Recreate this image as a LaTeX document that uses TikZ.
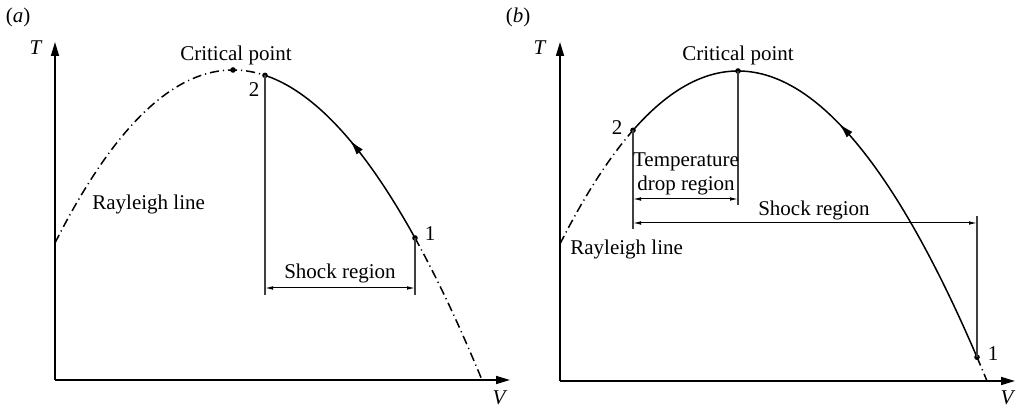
\documentclass[tikz,border=0pt]{standalone}
\usepackage{fontspec}
\setmainfont{Liberation Serif}
\usetikzlibrary{arrows.meta,decorations.markings}

\tikzset{
  rayleigh/.style={line width=0.75pt, dash pattern=on 4.5pt off 2pt on 0.6pt off 2pt},
  shock/.style={line width=0.75pt},
  axis/.style={line width=0.8pt, -{Triangle[length=7pt,width=4pt]}},
  guide/.style={line width=0.6pt, black!75},
  dim/.style={line width=0.5pt, {Latex[length=4pt,width=1.8pt]}-{Latex[length=4pt,width=1.8pt]}},
  lbl/.style={font=\fontsize{10.5}{12}\selectfont, inner sep=0pt, align=center},
  flow/.style={postaction={decorate}, decoration={markings,
      mark=at position #1 with {\arrow{Latex[length=7.5pt,width=4pt]}}}},
}

\begin{document}
\begin{tikzpicture}[x=0.5pt,y=0.5pt,
  declare function={rl(\u)=310-52.68*((\u-178)/100)*((\u-178)/100)
                    +1.077*((\u-178)/100)*((\u-178)/100)*((\u-178)/100);}]

\useasboundingbox (0,0) rectangle (1016,410);

% (a)
\begin{scope}[shift={(55,30)}]
  \draw[axis] (0,0) -- (0,338);
  \draw[axis] (0,0) -- (455,0);

  \coordinate (cpa) at (178,{rl(178)});
  \coordinate (p2a) at (210,{rl(210)});
  \coordinate (p1a) at (360,{rl(360)});

  \draw[rayleigh,domain=0:210,samples=60,variable=\u] plot (\u,{rl(\u)});
  \draw[rayleigh,domain=360:427,samples=20,variable=\u] plot (\u,{rl(\u)});
  \draw[shock,flow=0.52,domain=360:210,samples=60,variable=\u] plot (\u,{rl(\u)});

  \fill (cpa) circle (1.4pt);
  \fill (p2a) circle (1.4pt);
  \fill (p1a) circle (1.4pt);

  \coordinate (g2a) at (210,85);
  \coordinate (g1a) at (360,85);
  \draw[guide] (p2a) -- (g2a);
  \draw[guide] (p1a) -- (g1a);
  \coordinate (d2a) at (210,92);
  \coordinate (d1a) at (360,92);
  \draw[dim] (d2a) -- (d1a);

  \node[lbl] (cpta) at (181,325) {Critical point};
  \node[lbl] (twoa) at (199,290) {2};
  \node[lbl] (onea) at (375,146) {1};
  \node[lbl] (shka) at (285,107) {Shock region};
  \node[lbl,anchor=west] (rla) at (37,176) {Rayleigh line};
  \node[lbl] (Ta) at (-19,332) {\textit{T}};
  \node[lbl] (Va) at (445,-18) {\textit{V}};
  \node[lbl] (taga) at (-37,363) {(\textit{a})};
\end{scope}

% (b)
\begin{scope}[shift={(560,29)}]
  \draw[axis] (0,0) -- (0,339);
  \draw[axis] (0,0) -- (455,0);

  \coordinate (cpb) at (178,{rl(178)});
  \coordinate (p2b) at (73,{rl(73)});
  \coordinate (p1b) at (417,{rl(417)});

  \draw[rayleigh,domain=0:73,samples=30,variable=\u] plot (\u,{rl(\u)});
  \draw[rayleigh,domain=417:427,samples=5,variable=\u] plot (\u,{rl(\u)});
  \draw[shock,flow=0.53,domain=417:73,samples=100,variable=\u] plot (\u,{rl(\u)});

  \fill (cpb) circle (1.4pt);
  \fill (p2b) circle (1.4pt);
  \fill (p1b) circle (1.4pt);

  \coordinate (gcb) at (178,176);
  \coordinate (g2b) at (73,152);
  \coordinate (g1b) at (417,165);
  \draw[guide] (cpb) -- (gcb);
  \draw[guide] (p2b) -- (g2b);
  \draw[guide] (p1b) -- (g1b);
  \coordinate (t2b) at (73,182);
  \coordinate (tcb) at (178,182);
  \draw[dim] (t2b) -- (tcb);
  \coordinate (s2b) at (73,158);
  \coordinate (s1b) at (417,158);
  \draw[dim] (s2b) -- (s1b);

  \node[lbl] (cptb) at (178,326) {Critical point};
  \node[lbl] (twob) at (57,253) {2};
  \node[lbl] (oneb) at (433,27) {1};
  \node[lbl] (tdrb) at (126,207) {Temperature\\drop region};
  \node[lbl] (shkb) at (254,171) {Shock region};
  \node[lbl,anchor=west] (rlb) at (10,132) {Rayleigh line};
  \node[lbl] (Tb) at (-20,333) {\textit{T}};
  \node[lbl] (Vb) at (448,-17) {\textit{V}};
  \node[lbl] (tagb) at (-42,364) {(\textit{b})};
\end{scope}

\end{tikzpicture}
\end{document}
